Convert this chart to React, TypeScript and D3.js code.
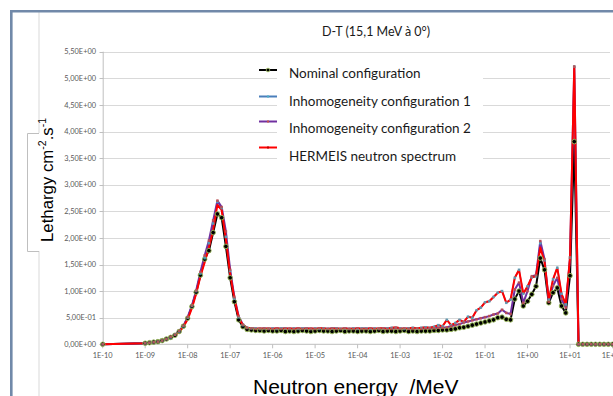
import React from 'react';
import * as d3 from 'd3';

// ---------- data ----------
const titleText = 'D-T (15,1 MeV à 0°)';
const seriesNames = [
  'Nominal configuration',
  'Inhomogeneity configuration 1',
  'Inhomogeneity configuration 2',
  'HERMEIS neutron spectrum',
];
const xTickValues = [1e-10, 1e-9, 1e-8, 1e-7, 1e-6, 1e-5, 1e-4, 1e-3, 1e-2, 1e-1, 1e0, 1e1, 1e2];
const xTickLabels = ['1E-10', '1E-09', '1E-08', '1E-07', '1E-06', '1E-05', '1E-04', '1E-03', '1E-02', '1E-01', '1E+00', '1E+01', '1E+02'];
const yTickValues = [0, 0.5, 1, 1.5, 2, 2.5, 3, 3.5, 4, 4.5, 5, 5.5];

// energy grid: 1E-10, then 10 bins per decade from 1E-09 to 1E+02 (MeV)
const energies: number[] = [1e-10, ...d3.range(0, 111).map((k) => Math.pow(10, -9 + k / 10))];

const nominal = [0,
  0.02, 0.03, 0.04, 0.05, 0.07, 0.10, 0.13, 0.17, 0.24, 0.34,
  0.49, 0.71, 0.98, 1.30, 1.60, 1.76, 2.10, 2.45, 2.38, 1.84,
  1.25, 0.80, 0.46, 0.33, 0.28, 0.27, 0.26, 0.26, 0.25, 0.26,
  0.25, 0.25, 0.26, 0.24, 0.25, 0.24, 0.25, 0.26, 0.25, 0.24,
  0.25, 0.26, 0.25, 0.25, 0.24, 0.25, 0.26, 0.24, 0.25, 0.25,
  0.24, 0.25, 0.25, 0.24, 0.25, 0.26, 0.24, 0.25, 0.25, 0.24,
  0.25, 0.26, 0.24, 0.25, 0.24, 0.25, 0.25, 0.25, 0.26, 0.26,
  0.27, 0.27, 0.28, 0.29, 0.31, 0.32, 0.34, 0.36, 0.38, 0.40,
  0.42, 0.44, 0.46, 0.50, 0.51, 0.47, 0.46, 0.85, 1.00, 0.72,
  0.81, 0.94, 1.09, 1.62, 1.40, 0.78, 0.97, 1.06, 0.72, 0.59,
  1.29, 3.81, 0, 0, 0, 0, 0, 0, 0, 0, 0];

const inhomogeneity1 = [0,
  0.02, 0.03, 0.04, 0.05, 0.07, 0.10, 0.13, 0.18, 0.24, 0.34,
  0.50, 0.72, 1.00, 1.33, 1.62, 1.90, 2.27, 2.68, 2.56, 2.02,
  1.38, 0.86, 0.51, 0.36, 0.31, 0.30, 0.30, 0.29, 0.30, 0.29,
  0.30, 0.29, 0.30, 0.30, 0.29, 0.30, 0.29, 0.30, 0.30, 0.29,
  0.30, 0.29, 0.30, 0.29, 0.30, 0.30, 0.29, 0.30, 0.29, 0.30,
  0.29, 0.30, 0.30, 0.29, 0.30, 0.29, 0.30, 0.30, 0.31, 0.31,
  0.30, 0.29, 0.30, 0.31, 0.30, 0.31, 0.32, 0.31, 0.33, 0.36,
  0.34, 0.46, 0.36, 0.40, 0.46, 0.42, 0.52, 0.50, 0.64, 0.69,
  0.79, 0.81, 0.89, 0.97, 1.00, 0.78, 0.84, 1.25, 1.40, 0.95,
  1.09, 1.26, 1.28, 1.90, 1.58, 0.84, 1.22, 1.44, 0.95, 0.75,
  1.63, 5.22, 0, 0, 0, 0, 0, 0, 0, 0, 0];

const inhomogeneity2 = [0,
  0.02, 0.03, 0.04, 0.05, 0.07, 0.10, 0.14, 0.18, 0.25, 0.35,
  0.51, 0.73, 1.01, 1.36, 1.67, 1.95, 2.33, 2.70, 2.58, 2.12,
  1.40, 0.89, 0.53, 0.37, 0.31, 0.30, 0.29, 0.29, 0.30, 0.29,
  0.29, 0.30, 0.29, 0.30, 0.29, 0.29, 0.30, 0.29, 0.30, 0.29,
  0.29, 0.30, 0.29, 0.29, 0.30, 0.29, 0.29, 0.30, 0.29, 0.29,
  0.30, 0.29, 0.29, 0.30, 0.29, 0.29, 0.30, 0.29, 0.29, 0.30,
  0.29, 0.30, 0.29, 0.29, 0.30, 0.29, 0.30, 0.30, 0.30, 0.31,
  0.31, 0.32, 0.34, 0.36, 0.38, 0.41, 0.43, 0.45, 0.47, 0.49,
  0.51, 0.53, 0.56, 0.58, 0.65, 0.59, 0.57, 1.03, 1.16, 0.78,
  1.00, 1.28, 1.30, 1.94, 1.60, 0.80, 1.10, 1.25, 0.85, 0.69,
  1.63, 5.22, 0, 0, 0, 0, 0, 0, 0, 0, 0];

const hermeis = [0,
  0.02, 0.03, 0.04, 0.05, 0.07, 0.10, 0.13, 0.17, 0.23, 0.33,
  0.47, 0.68, 0.95, 1.28, 1.54, 1.82, 2.15, 2.62, 2.52, 1.97,
  1.32, 0.86, 0.50, 0.36, 0.31, 0.30, 0.29, 0.30, 0.29, 0.30,
  0.29, 0.30, 0.29, 0.29, 0.30, 0.29, 0.30, 0.29, 0.29, 0.30,
  0.29, 0.30, 0.30, 0.29, 0.29, 0.30, 0.29, 0.30, 0.29, 0.29,
  0.30, 0.29, 0.29, 0.30, 0.29, 0.30, 0.30, 0.29, 0.31, 0.32,
  0.30, 0.29, 0.30, 0.31, 0.30, 0.31, 0.32, 0.31, 0.33, 0.36,
  0.34, 0.46, 0.36, 0.40, 0.46, 0.42, 0.52, 0.50, 0.64, 0.69,
  0.79, 0.81, 0.89, 0.97, 1.00, 0.78, 0.84, 1.25, 1.40, 0.95,
  1.09, 1.26, 1.28, 1.82, 1.55, 0.84, 1.22, 1.44, 0.95, 0.75,
  1.63, 5.22, 0, 0, 0, 0, 0, 0, 0, 0, 0];

// ---------- styles ----------
const lineColors = ['#000000', '#4a7ebb', '#7030a0', '#ff0000'];
const lineWidths = [2, 1.5, 2, 2];
const markerFill = ['#000000', '#4bacc6', '#c0504d', 'none'];
const markerStroke = ['#9bbb59', '#4bacc6', '#c0504d', 'none'];

const fmtY = (v: number) => {
  const [m, e] = v.toExponential(2).split('e');
  const n = parseInt(e, 10);
  const sign = n < 0 ? '-' : '+';
  return `${m.replace('.', ',')}E${sign}${String(Math.abs(n)).padStart(2, '0')}`;
};

export default function App() {
  const W = 613;
  const H = 396;
  const x = d3.scaleLog().domain([1e-10, 1e2]).range([102.7, 612.5]);
  const y = d3.scaleLinear().domain([0, 5.5]).range([344.3, 51.7]);
  const allSeries = [nominal, inhomogeneity1, inhomogeneity2, hermeis];
  const line = d3
    .line<number>()
    .x((_, i) => x(energies[i]))
    .y((d) => y(d));

  const gridColor = '#d9d9d9';
  const axisColor = '#bfbfbf';
  const legendX = 259;
  const legendSampleY = [70, 96.5, 121.5, 147.5];
  const legendTextY = [78, 106, 132.5, 161];

  return (
    <svg
      width={W}
      height={H}
      style={{ position: 'fixed', left: 0, top: 0, background: '#fff' }}
    >
      <rect x={0} y={0} width={W} height={H} fill="#ffffff" />
      {/* frame */}
      <line x1={39} y1={12} x2={39} y2={133} stroke="#d9d9d9" strokeWidth={1} />
      <line x1={39} y1={251} x2={39} y2={H} stroke="#d9d9d9" strokeWidth={1} />
      <path d="M39,133.5 H27.5 V251.5 H39" fill="none" stroke="#bfbfbf" strokeWidth={1} />
      <path d={`M11.3,${H} V11.3 H${W}`} fill="none" stroke="#7189a9" strokeWidth={2.6} />

      {/* title */}
      <text x={376} y={36} textAnchor="middle" fontFamily="Lato, 'Open Sans', sans-serif" fontSize={12.5} fill="#1a1a1a">
        {titleText}
      </text>

      {/* gridlines */}
      {yTickValues.filter((v) => v > 0).map((v) => (
        <line key={v} x1={x(1e-10)} x2={610} y1={Math.round(y(v)) + 0.5} y2={Math.round(y(v)) + 0.5} stroke={gridColor} strokeWidth={1.2} />
      ))}

      {/* axes */}
      <line x1={103.2} x2={103.2} y1={y(5.5)} y2={y(0)} stroke={axisColor} strokeWidth={1} />
      <line x1={102.7} x2={W} y1={y(0)} y2={y(0)} stroke={axisColor} strokeWidth={1} />
      {yTickValues.map((v) => (
        <g key={v}>
          <line x1={99.5} x2={103.2} y1={Math.round(y(v)) + 0.5} y2={Math.round(y(v)) + 0.5} stroke={axisColor} />
          <text x={96} y={y(v) + 2.6} textAnchor="end" fontFamily="Lato, sans-serif" fontSize={7.4} fill="#595959">
            {fmtY(v)}
          </text>
        </g>
      ))}
      {xTickValues.map((v, i) => (
        <g key={v}>
          <line x1={x(v)} x2={x(v)} y1={y(0)} y2={y(0) + 4} stroke={axisColor} />
          <text x={x(v)} y={358} textAnchor="middle" fontFamily="Lato, sans-serif" fontSize={7.4} fill="#595959">
            {xTickLabels[i]}
          </text>
        </g>
      ))}

      {/* legend background */}
      <rect x={277} y={62} width={206} height={104} fill="#ffffff" />

      {/* series lines */}
      {allSeries.map((s, si) => (
        <path key={si} d={line(s) || ''} fill="none" stroke={lineColors[si]} strokeWidth={lineWidths[si]} strokeLinejoin="round" />
      ))}
      {/* markers */}
      {allSeries.slice(0, 3).map((s, si) =>
        s.map((v, i) =>
          si === 0 ? (
            <circle key={`${si}-${i}`} cx={x(energies[i])} cy={y(v)} r={2.3} fill={markerFill[si]} stroke={markerStroke[si]} strokeWidth={0.9} />
          ) : (
            <rect key={`${si}-${i}`} x={x(energies[i]) - 1.3} y={y(v) - 1.3} width={2.6} height={2.6} fill={markerFill[si]} opacity={0.85} />
          )
        )
      )}

      {/* legend */}
      {seriesNames.map((name, i) => (
        <g key={name}>
          <line x1={legendX} x2={277} y1={legendSampleY[i]} y2={legendSampleY[i]} stroke={lineColors[i]} strokeWidth={2} />
          {i === 0 ? (
            <circle cx={268} cy={legendSampleY[i]} r={1.8} fill="#000" stroke="#9bbb59" strokeWidth={0.8} />
          ) : (
            <rect x={267} y={legendSampleY[i] - 1} width={2} height={2} fill={i === 3 ? '#c00000' : markerFill[i]} />
          )}
          <text x={289} y={legendTextY[i]} fontFamily="Lato, 'Open Sans', sans-serif" fontSize={13.5} fill="#1a1a1a">
            {name}
          </text>
        </g>
      ))}

      {/* axis titles */}
      <text transform="translate(52.5,242) rotate(-90)" fontFamily="'Liberation Sans', Arial, sans-serif" fontSize={16.8} fill="#000">
        Lethargy cm
        <tspan dy={-6.5} fontSize={10.5}>-2</tspan>
        <tspan dy={6.5}>.s</tspan>
        <tspan dy={-6.5} fontSize={10.5}>-1</tspan>
      </text>
      <text x={253} y={394} fontFamily="'Liberation Sans', Arial, sans-serif" fontSize={21} fill="#000" style={{ whiteSpace: 'pre' }}>
        {'Neutron energy  /MeV'}
      </text>
    </svg>
  );
}
